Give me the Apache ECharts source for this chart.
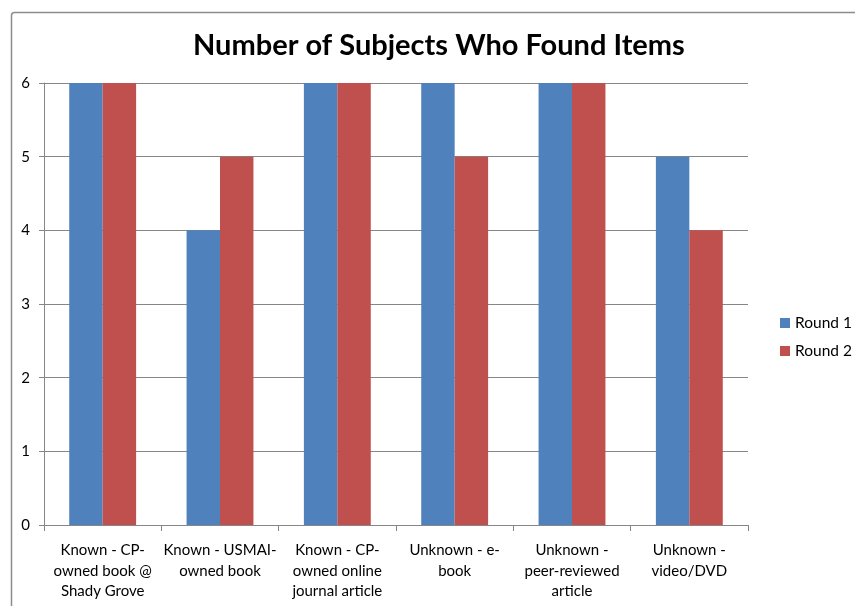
<!DOCTYPE html>
<html>
<head>
<meta charset="utf-8">
<script src="https://cdn.jsdelivr.net/npm/echarts@6/dist/echarts.min.js"></script>
<style>html,body{margin:0;padding:0;background:#fff}#c{width:855px;height:606px}</style>
</head>
<body>
<div id="c"></div>
<script>
var categories = [
  "Known - CP-\nowned book @\nShady Grove",
  "Known - USMAI-\nowned book",
  "Known - CP-\nowned online\njournal article",
  "Unknown - e-\nbook",
  "Unknown -\npeer-reviewed\narticle",
  "Unknown -\nvideo/DVD"
];
var round1 = [6, 4, 6, 6, 6, 5];
var round2 = [6, 5, 6, 5, 6, 4];
var seriesNames = ["Round 1", "Round 2"];
var titleText = "Number of Subjects Who Found Items";

var font = "Lato, 'Open Sans', sans-serif";
var chart = echarts.init(document.getElementById('c'), null, {renderer: 'canvas'});
chart.setOption({
  animation: false,
  backgroundColor: '#fff',
  graphic: [{
    type: 'rect', left: 9, top: 10,
    shape: {width: 900, height: 700, r: 3},
    style: {fill: 'none', stroke: '#8c8c8c', lineWidth: 1.5},
    silent: true
  }],
  title: {
    text: titleText, left: 188, top: 26,
    textStyle: {fontFamily: font, fontWeight: 'bold', fontSize: 29, color: '#000'}
  },
  legend: {
    orient: 'vertical', left: 775, top: 310, itemGap: 12,
    itemWidth: 10, itemHeight: 10, icon: 'rect',
    textStyle: {fontFamily: font, fontSize: 15.5, color: '#000'}
  },
  grid: {left: 44, right: 107, top: 83, bottom: 81, containLabel: false},
  xAxis: {
    type: 'category', data: categories,
    axisLine: {lineStyle: {color: '#868686', width: 1}},
    axisTick: {show: true, alignWithLabel: false, length: 6, lineStyle: {color: '#868686'}},
    axisLabel: {interval: 0, margin: 15, lineHeight: 20.5, fontFamily: font, fontSize: 15, color: '#000'}
  },
  yAxis: {
    type: 'value', min: 0, max: 6, interval: 1,
    axisLine: {show: true, lineStyle: {color: '#868686', width: 1}},
    axisTick: {show: true, length: 5, lineStyle: {color: '#868686'}},
    splitLine: {lineStyle: {color: '#868686', width: 1}},
    axisLabel: {margin: 14, fontFamily: font, fontSize: 15, color: '#000'}
  },
  series: [
    {name: seriesNames[0], type: 'bar', data: round1, barGap: '0%', barCategoryGap: '43%', itemStyle: {color: '#4F81BD'}},
    {name: seriesNames[1], type: 'bar', data: round2, barGap: '0%', barCategoryGap: '43%', itemStyle: {color: '#C0504D'}}
  ]
});
</script>
</body>
</html>
